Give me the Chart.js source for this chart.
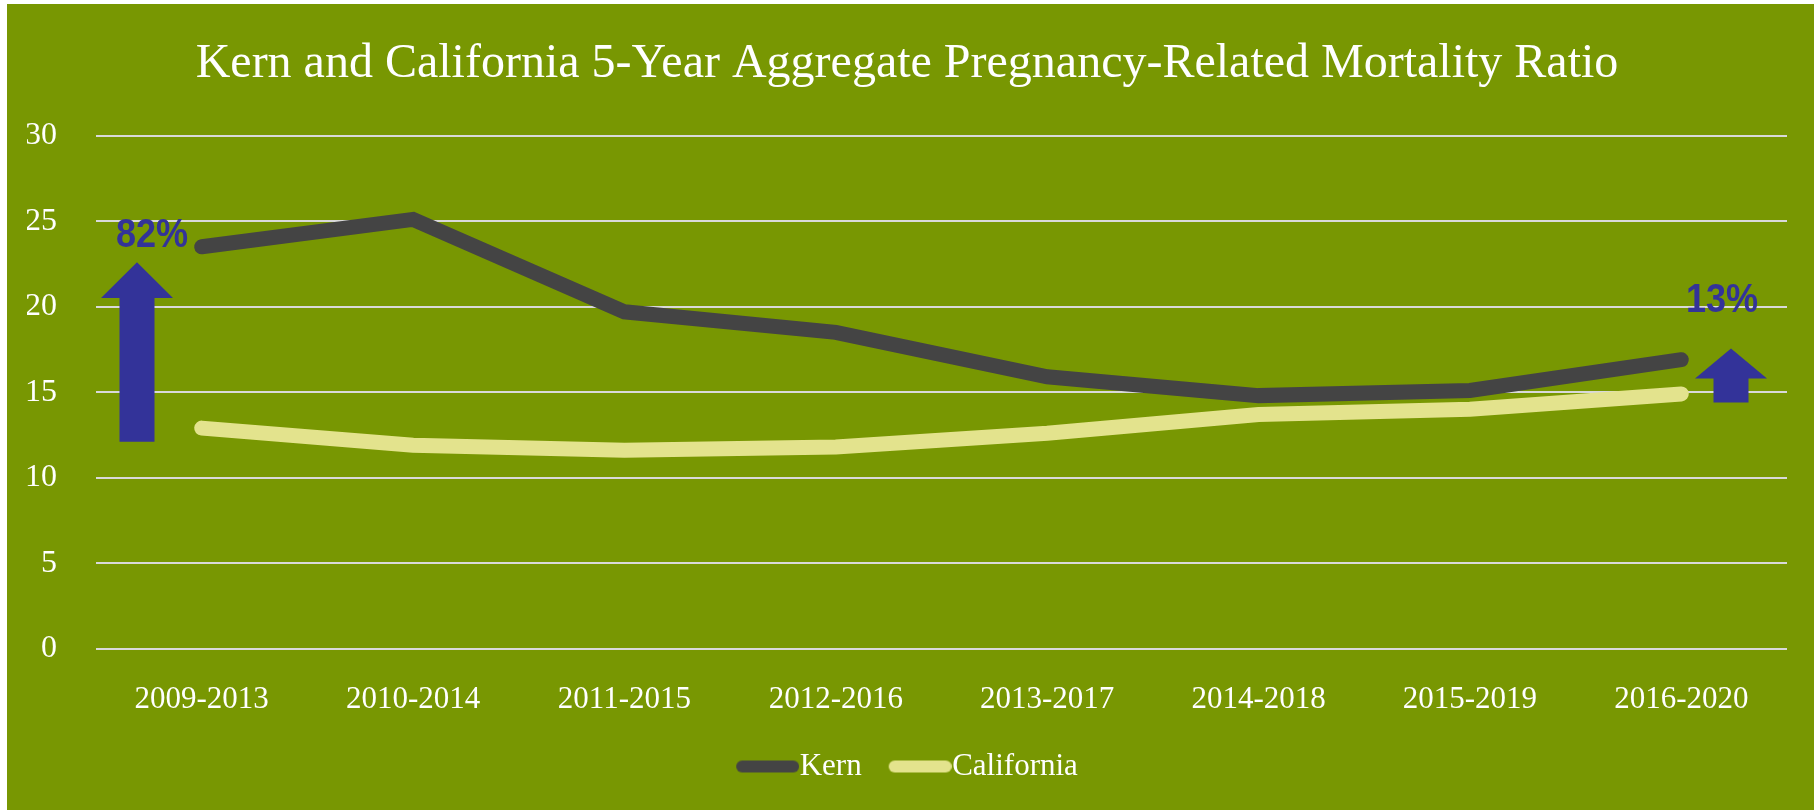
<!DOCTYPE html>
<html lang="en">
<head>
  <meta charset="UTF-8">
  <title>Kern and California 5-Year Aggregate Pregnancy-Related Mortality Ratio</title>
  <script src="https://cdn.jsdelivr.net/npm/chart.js"></script>
  <style>
    html, body { margin: 0; padding: 0; background: #ffffff; }
    .chart-box {
      position: absolute;
      left: 7px;
      top: 4px;
      width: 1807px;
      height: 806px;
      background: #789702;
    }
  </style>
</head>
<body>
  <div class="chart-box">
    <canvas id="mortality-chart"></canvas>
  </div>

  <script>
    const periods = ["2009-2013", "2010-2014", "2011-2015", "2012-2016", "2013-2017", "2014-2018", "2015-2019", "2016-2020"];
    const kernRatio = [23.5, 25.1, 19.7, 18.5, 15.9, 14.8, 15.1, 16.9];
    const californiaRatio = [12.9, 11.9, 11.6, 11.8, 12.6, 13.7, 14.0, 14.9];
    const yTicks = [0, 5, 10, 15, 20, 25, 30];

    // change callouts: label, arrow tip / head base / tail and text baseline (y values)
    const callouts = [
      { label: "82%", side: "left", tip: 22.6, base: 20.5, tail: 12.1, text: 23.5 },
      { label: "13%", side: "right", tip: 17.55, base: 15.8, tail: 14.4, text: 19.7 }
    ];

    const serif = "'Liberation Serif', 'Times New Roman', serif";

    // legend swatch: thick rounded line that runs right up to the label text
    function legendLine(color) {
      const c = document.createElement('canvas');
      c.width = 78;
      c.height = 14;
      const g = c.getContext('2d');
      g.strokeStyle = color;
      g.lineWidth = 12;
      g.lineCap = 'round';
      g.beginPath();
      g.moveTo(21, 7);
      g.lineTo(72, 7);
      g.stroke();
      return c;
    }

    const arrowPlugin = {
      id: 'arrows',
      afterDatasetsDraw(chart) {
        const { ctx, chartArea, scales: { y } } = chart;
        ctx.save();
        ctx.fillStyle = '#333399';
        callouts.forEach(c => {
          const cx = c.side === 'left' ? chartArea.left + 41 : chartArea.right - 56;
          const tipY = y.getPixelForValue(c.tip);
          const baseY = y.getPixelForValue(c.base);
          const tailY = y.getPixelForValue(c.tail);
          const head = 36, shaft = 17.5;
          ctx.beginPath();
          ctx.moveTo(cx, tipY);
          ctx.lineTo(cx + head, baseY);
          ctx.lineTo(cx + shaft, baseY);
          ctx.lineTo(cx + shaft, tailY);
          ctx.lineTo(cx - shaft, tailY);
          ctx.lineTo(cx - shaft, baseY);
          ctx.lineTo(cx - head, baseY);
          ctx.closePath();
          ctx.fill();

          const tx = c.side === 'left' ? chartArea.left + 56 : chartArea.right - 65;
          ctx.save();
          ctx.translate(tx, y.getPixelForValue(c.text));
          ctx.scale(0.88, 1);
          ctx.font = "bold 41px 'Liberation Sans', Arial, sans-serif";
          ctx.textAlign = 'center';
          ctx.textBaseline = 'alphabetic';
          ctx.fillText(c.label, 0, 0);
          ctx.restore();
        });
        ctx.restore();
      }
    };

    new Chart(document.getElementById('mortality-chart'), {
      type: 'line',
      data: {
        labels: periods,
        datasets: [
          {
            label: 'Kern',
            data: kernRatio,
            borderColor: '#444444',
            backgroundColor: '#444444',
            borderWidth: 15,
            borderCapStyle: 'round',
            pointRadius: 0,
            tension: 0
          },
          {
            label: 'California',
            data: californiaRatio,
            borderColor: '#e3e38d',
            backgroundColor: '#e3e38d',
            borderWidth: 15,
            borderCapStyle: 'round',
            pointRadius: 0,
            tension: 0
          }
        ]
      },
      options: {
        responsive: true,
        maintainAspectRatio: false,
        animation: false,
        layout: { padding: { left: 20, right: 27, top: 0, bottom: 18 } },
        plugins: {
          title: {
            display: true,
            text: 'Kern and California 5-Year Aggregate Pregnancy-Related Mortality Ratio',
            color: '#ffffff',
            font: { family: serif, size: 48, weight: 'normal' },
            padding: { top: 32, bottom: 42 }
          },
          legend: {
            position: 'bottom',
            labels: {
              color: '#ffffff',
              font: { family: serif, size: 31 },
              usePointStyle: true,
              pointStyleWidth: 48,
              boxHeight: 12,
              padding: 27,
              generateLabels(chart) {
                return chart.data.datasets.map((ds, i) => ({
                  text: ds.label,
                  fillStyle: ds.borderColor,
                  strokeStyle: ds.borderColor,
                  lineWidth: 0,
                  pointStyle: legendLine(ds.borderColor),
                  fontColor: '#ffffff',
                  datasetIndex: i,
                  hidden: false
                }));
              }
            }
          },
          tooltip: { enabled: false }
        },
        scales: {
          x: {
            offset: true,
            grid: { display: false, drawTicks: false },
            border: { display: false },
            ticks: {
              color: '#ffffff',
              font: { family: serif, size: 31 },
              maxRotation: 0,
              padding: 32
            },
            afterFit(scale) {
              scale.height -= 26;
            }
          },
          y: {
            min: 0,
            max: 30,
            afterBuildTicks(scale) {
              scale.ticks = yTicks.map(v => ({ value: v }));
            },
            afterFit(scale) {
              scale.width = 69;
            },
            grid: { color: '#d9d9d9', lineWidth: 2, drawTicks: false },
            border: { display: false },
            ticks: {
              color: '#ffffff',
              font: { family: serif, size: 32 },
              padding: 39
            }
          }
        }
      },
      plugins: [arrowPlugin]
    });
  </script>
</body>
</html>
